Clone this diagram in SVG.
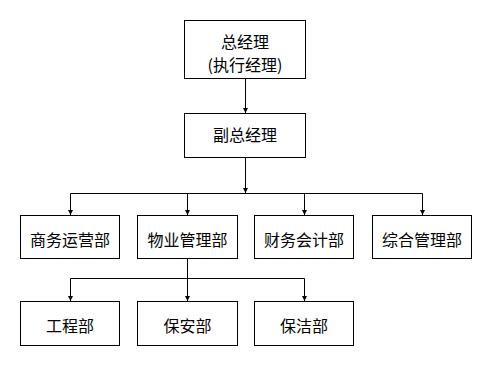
<svg xmlns="http://www.w3.org/2000/svg" width="492" height="366" viewBox="0 0 492 366">
<style>
.box{fill:#fff;stroke:#000;stroke-width:1}
.lbl{font-family:"Noto Sans CJK SC","Noto Sans",sans-serif;font-size:16px;fill:#000;text-anchor:middle;dominant-baseline:central}
.c{fill:none;stroke:#000;stroke-width:1}
</style>
<defs>
<marker id="ah" markerUnits="userSpaceOnUse" markerWidth="6" markerHeight="5" refX="5" refY="2.5" orient="auto">
<path d="M0,0 L5,2.5 L0,5 Z" fill="#000"/>
</marker>
</defs>
<rect width="492" height="366" fill="#fff"/>
<g id="connectors">
<path class="c" d="M245.5,79 V113" marker-end="url(#ah)"/>
<path class="c" d="M245.5,158 V193" marker-end="url(#ah)"/>
<path class="c" d="M70.5,193.5 H422.5"/>
<path class="c" d="M70.5,193.5 V215" marker-end="url(#ah)"/>
<path class="c" d="M187.5,193.5 V215" marker-end="url(#ah)"/>
<path class="c" d="M304.5,193.5 V215" marker-end="url(#ah)"/>
<path class="c" d="M422.5,193.5 V215" marker-end="url(#ah)"/>
<path class="c" d="M187.5,259 V301" marker-end="url(#ah)"/>
<path class="c" d="M70.5,278.5 H304.5"/>
<path class="c" d="M70.5,278.5 V301" marker-end="url(#ah)"/>
<path class="c" d="M304.5,278.5 V301" marker-end="url(#ah)"/>
</g>
<g id="gm">
<rect class="box" x="184.5" y="20.5" width="121" height="58"/>
<text class="lbl" x="245" y="41">总经理</text>
<text class="lbl" x="245" y="64">(执行经理)</text>
</g>
<g id="fzjl">
<rect class="box" x="184.5" y="113.5" width="121" height="44"/>
<text class="lbl" x="245" y="134">副总经理</text>
</g>
<g id="swyyb">
<rect class="box" x="20.5" y="215.5" width="99" height="43"/>
<text class="lbl" x="70" y="238.5">商务运营部</text>
</g>
<g id="wyglb">
<rect class="box" x="137.5" y="215.5" width="100" height="43"/>
<text class="lbl" x="187.5" y="238.5">物业管理部</text>
</g>
<g id="cwkjb">
<rect class="box" x="254.5" y="215.5" width="99" height="43"/>
<text class="lbl" x="304" y="238.5">财务会计部</text>
</g>
<g id="zhglb">
<rect class="box" x="372.5" y="215.5" width="99" height="43"/>
<text class="lbl" x="422" y="238.5">综合管理部</text>
</g>
<g id="gcb">
<rect class="box" x="20.5" y="301.5" width="99" height="44"/>
<text class="lbl" x="70" y="325">工程部</text>
</g>
<g id="bab">
<rect class="box" x="137.5" y="301.5" width="100" height="44"/>
<text class="lbl" x="187.5" y="325">保安部</text>
</g>
<g id="bjb">
<rect class="box" x="254.5" y="301.5" width="99" height="44"/>
<text class="lbl" x="304" y="325">保洁部</text>
</g>
</svg>
